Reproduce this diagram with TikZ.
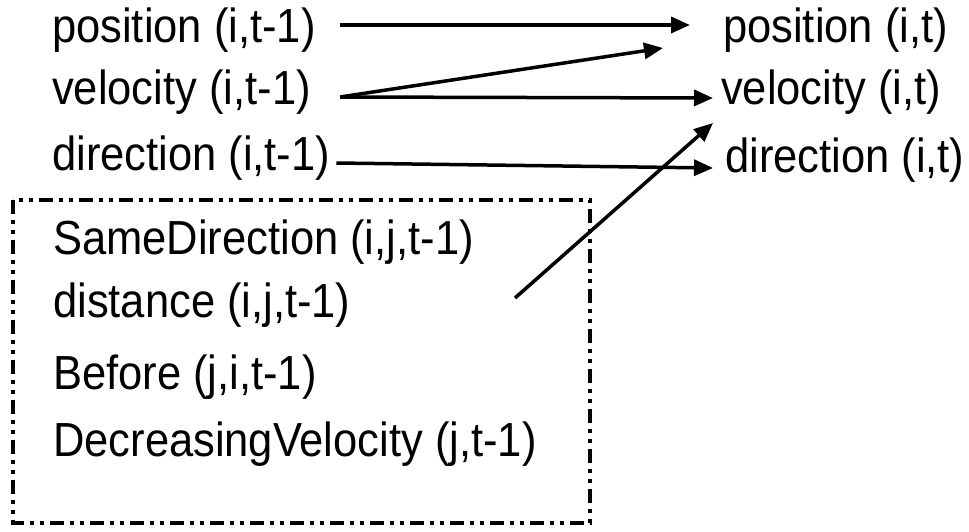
\documentclass[tikz,border=0pt]{standalone}
\usepackage{fontspec}
\setmainfont{Liberation Sans}
\usetikzlibrary{arrows.meta}
\newcommand{\stretchtxt}[1]{\scalebox{1}[1.1]{#1}}
\begin{document}
\begin{tikzpicture}[x=1pt, y=-1pt,
	lbl/.style={anchor=base west, inner sep=0, font=\fontsize{43.5}{52}\selectfont},
	link/.style={-{Triangle[length=19pt, width=16pt]}, line width=3.5pt},
	dashbox/.style={line width=3.5pt, dash pattern=on 14pt off 6pt on 4pt off 6pt on 4pt off 6pt}]
\useasboundingbox (0,0) rectangle (969,532);
\node [lbl] (pos0) at (52,43) {\stretchtxt{position (i,t-1)}};
\node [lbl] (vel0) at (52,105) {\stretchtxt{velocity (i,t-1)}};
\node [lbl] (dir0) at (52,170) {\stretchtxt{direction (i,t-1)}};
\node [lbl] (pos1) at (723,43) {\stretchtxt{position (i,t)}};
\node [lbl] (vel1) at (721,105) {\stretchtxt{velocity (i,t)}};
\node [lbl] (dir1) at (725,172) {\stretchtxt{direction (i,t)}};
\draw [dashbox] (13,200) rectangle (590,523);
\node [lbl] (same) at (53,254) {\stretchtxt{SameDirection (i,j,t-1)}};
\node [lbl] (dist) at (53,317) {\stretchtxt{distance (i,j,t-1)}};
\node [lbl] (before) at (53,389) {\stretchtxt{Before (j,i,t-1)}};
\node [lbl] (decr) at (53,456) {\stretchtxt{DecreasingVelocity (j,t-1)}};
\coordinate (cue) at (515,298);
\draw [link] ([xshift=24pt, yshift=18pt]pos0.base east) -- ([xshift=-33pt, yshift=18pt]pos1.base west);
\draw [link] ([xshift=29pt, yshift=8pt]vel0.base east) -- ([xshift=-60pt, yshift=-5pt]pos1.base west);
\draw [link] ([xshift=29pt, yshift=8pt]vel0.base east) -- ([xshift=-8pt, yshift=7pt]vel1.base west);
\draw [link] ([xshift=6pt, yshift=7pt]dir0.base east) -- ([xshift=-12pt, yshift=4pt]dir1.base west);
\draw [link] (cue) -- ([xshift=-8pt, yshift=-18pt]vel1.base west);
\end{tikzpicture}
\end{document}
